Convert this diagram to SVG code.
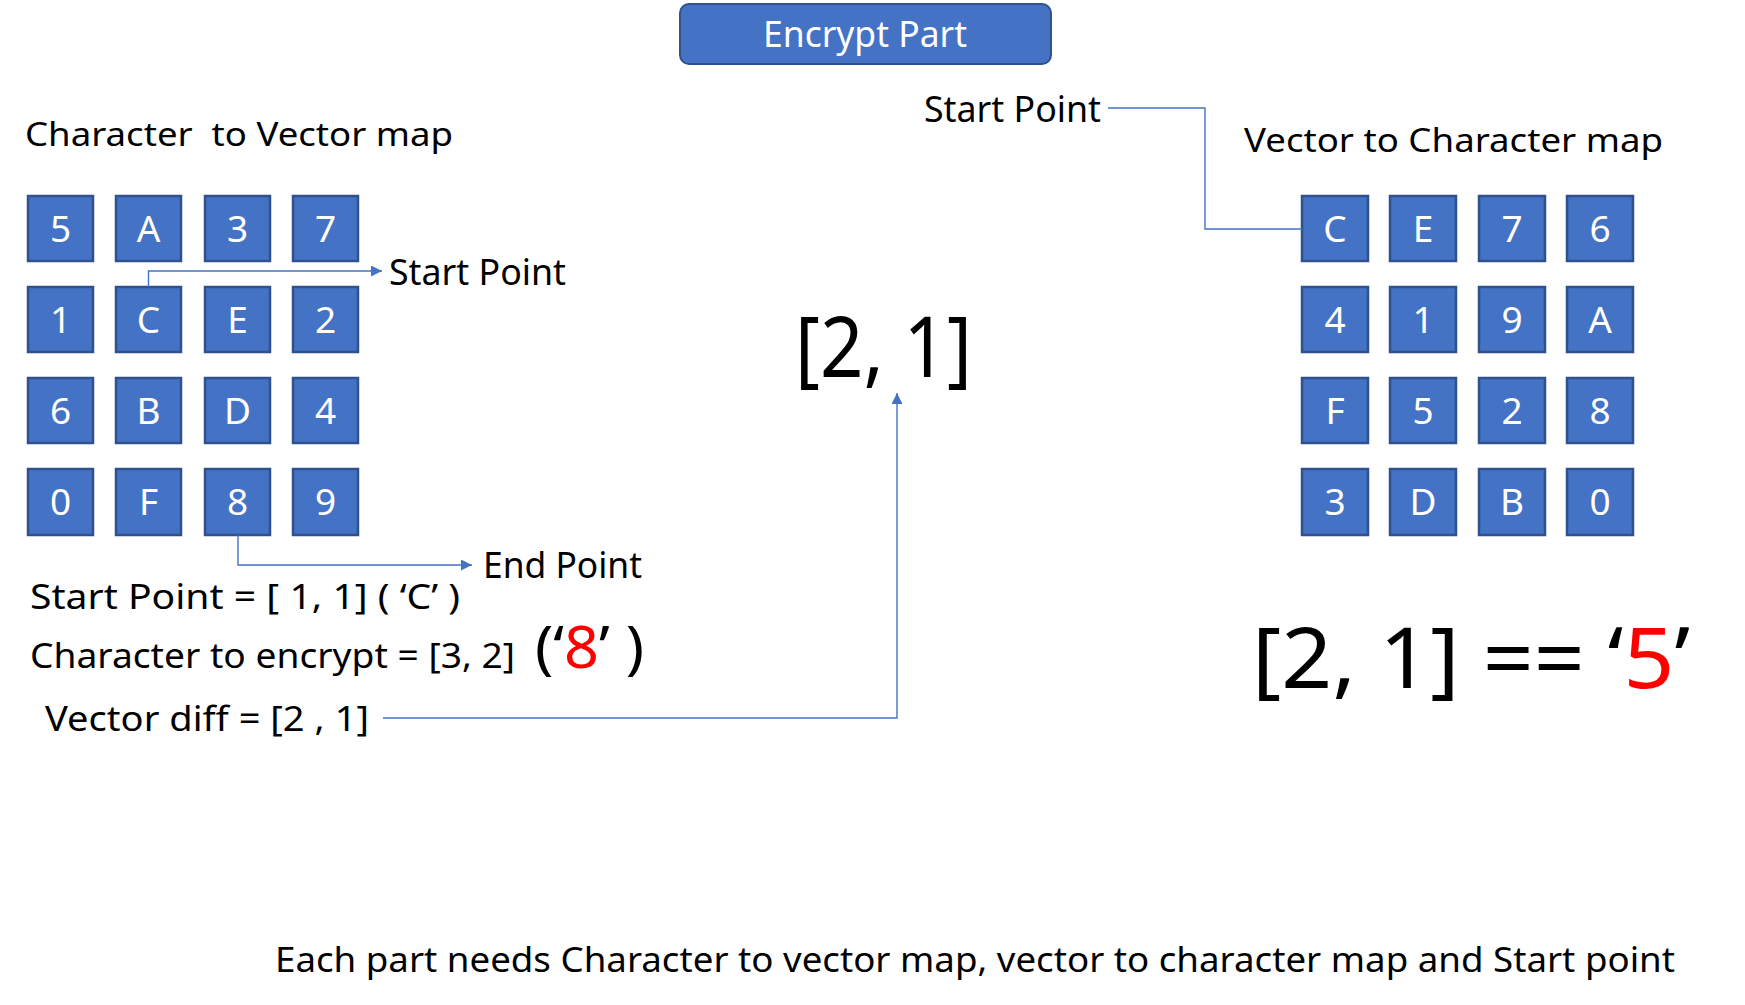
<svg xmlns="http://www.w3.org/2000/svg" width="1745" height="1005" viewBox="0 0 1745 1005">
<defs>
<marker id="arr" markerUnits="userSpaceOnUse" markerWidth="11" markerHeight="11" refX="11" refY="5.5" orient="auto">
<path d="M0,0 L11,5.5 L0,11 z" fill="#4472C4"/>
</marker>
</defs>
<style>
text{font-family:"Noto Sans","Open Sans","Liberation Sans",sans-serif;}
.box rect{fill:#4472C4;stroke:#2F528F;stroke-width:2.5;}
.box text{fill:#ffffff;font-size:37px;text-anchor:middle;}
.lbl{fill:#000;}
.red{fill:#FF0000;}
.conn{fill:none;stroke:#4472C4;stroke-width:1.4;}
</style>
<rect width="1745" height="1005" fill="#ffffff"/>

<g id="title">
<rect x="680" y="4" width="371" height="60" rx="9" fill="#4472C4" stroke="#2F528F" stroke-width="2"/>
<text x="865" y="47" fill="#ffffff" font-size="37" text-anchor="middle" textLength="204" lengthAdjust="spacingAndGlyphs">Encrypt Part</text>
</g>

<g id="labels">
<text class="lbl" x="25" y="146" font-size="33" xml:space="preserve" textLength="428" lengthAdjust="spacingAndGlyphs">Character  to Vector map</text>
<text class="lbl" x="1244" y="152" font-size="33" textLength="419" lengthAdjust="spacingAndGlyphs">Vector to Character map</text>
<text class="lbl" x="389" y="285" font-size="37" textLength="177" lengthAdjust="spacingAndGlyphs">Start Point</text>
<text class="lbl" x="924" y="122" font-size="37" textLength="177" lengthAdjust="spacingAndGlyphs">Start Point</text>
<text class="lbl" x="483" y="578" font-size="37" textLength="159" lengthAdjust="spacingAndGlyphs">End Point</text>
<text class="lbl" x="30" y="609" font-size="34" textLength="430" lengthAdjust="spacingAndGlyphs">Start Point = [ 1, 1] ( ‘C’ )</text>
<text class="lbl" x="30" y="668" font-size="34" textLength="485" lengthAdjust="spacingAndGlyphs">Character to encrypt = [3, 2]</text>
<text class="lbl" x="535" y="668" font-size="58" xml:space="preserve" textLength="109" lengthAdjust="spacingAndGlyphs">(‘<tspan class="red">8</tspan>’ )</text>
<text class="lbl" x="45" y="731" font-size="34" textLength="324" lengthAdjust="spacingAndGlyphs">Vector diff = [2 , 1]</text>
<text class="lbl" x="795" y="377" font-size="84" textLength="177" lengthAdjust="spacingAndGlyphs">[2, 1]</text>
<text class="lbl" x="1252" y="688" font-size="84" xml:space="preserve" textLength="438" lengthAdjust="spacingAndGlyphs">[2, 1] == ‘<tspan class="red">5</tspan>’</text>
<text class="lbl" x="275" y="972" font-size="35" textLength="1400" lengthAdjust="spacingAndGlyphs">Each part needs Character to vector map, vector to character map and Start point</text>
</g>

<g id="left-map">
<g id="L-5" class="box"><rect x="28" y="196" width="65" height="65"/><text x="60.5" y="242">5</text></g>
<g id="L-A" class="box"><rect x="116" y="196" width="65" height="65"/><text x="148.5" y="242">A</text></g>
<g id="L-3" class="box"><rect x="205" y="196" width="65" height="65"/><text x="237.5" y="242">3</text></g>
<g id="L-7" class="box"><rect x="293" y="196" width="65" height="65"/><text x="325.5" y="242">7</text></g>
<g id="L-1" class="box"><rect x="28" y="287" width="65" height="65"/><text x="60.5" y="333">1</text></g>
<g id="L-C" class="box"><rect x="116" y="287" width="65" height="65"/><text x="148.5" y="333">C</text></g>
<g id="L-E" class="box"><rect x="205" y="287" width="65" height="65"/><text x="237.5" y="333">E</text></g>
<g id="L-2" class="box"><rect x="293" y="287" width="65" height="65"/><text x="325.5" y="333">2</text></g>
<g id="L-6" class="box"><rect x="28" y="378" width="65" height="65"/><text x="60.5" y="424">6</text></g>
<g id="L-B" class="box"><rect x="116" y="378" width="65" height="65"/><text x="148.5" y="424">B</text></g>
<g id="L-D" class="box"><rect x="205" y="378" width="65" height="65"/><text x="237.5" y="424">D</text></g>
<g id="L-4" class="box"><rect x="293" y="378" width="65" height="65"/><text x="325.5" y="424">4</text></g>
<g id="L-0" class="box"><rect x="28" y="469" width="65" height="66"/><text x="60.5" y="515">0</text></g>
<g id="L-F" class="box"><rect x="116" y="469" width="65" height="66"/><text x="148.5" y="515">F</text></g>
<g id="L-8" class="box"><rect x="205" y="469" width="65" height="66"/><text x="237.5" y="515">8</text></g>
<g id="L-9" class="box"><rect x="293" y="469" width="65" height="66"/><text x="325.5" y="515">9</text></g>
</g>

<g id="right-map">
<g id="R-C" class="box"><rect x="1302" y="196" width="66" height="65"/><text x="1335" y="242">C</text></g>
<g id="R-E" class="box"><rect x="1390" y="196" width="66" height="65"/><text x="1423" y="242">E</text></g>
<g id="R-7" class="box"><rect x="1479" y="196" width="66" height="65"/><text x="1512" y="242">7</text></g>
<g id="R-6" class="box"><rect x="1567" y="196" width="66" height="65"/><text x="1600" y="242">6</text></g>
<g id="R-4" class="box"><rect x="1302" y="287" width="66" height="65"/><text x="1335" y="333">4</text></g>
<g id="R-1" class="box"><rect x="1390" y="287" width="66" height="65"/><text x="1423" y="333">1</text></g>
<g id="R-9" class="box"><rect x="1479" y="287" width="66" height="65"/><text x="1512" y="333">9</text></g>
<g id="R-A" class="box"><rect x="1567" y="287" width="66" height="65"/><text x="1600" y="333">A</text></g>
<g id="R-F" class="box"><rect x="1302" y="378" width="66" height="65"/><text x="1335" y="424">F</text></g>
<g id="R-5" class="box"><rect x="1390" y="378" width="66" height="65"/><text x="1423" y="424">5</text></g>
<g id="R-2" class="box"><rect x="1479" y="378" width="66" height="65"/><text x="1512" y="424">2</text></g>
<g id="R-8" class="box"><rect x="1567" y="378" width="66" height="65"/><text x="1600" y="424">8</text></g>
<g id="R-3" class="box"><rect x="1302" y="469" width="66" height="66"/><text x="1335" y="515">3</text></g>
<g id="R-D" class="box"><rect x="1390" y="469" width="66" height="66"/><text x="1423" y="515">D</text></g>
<g id="R-B" class="box"><rect x="1479" y="469" width="66" height="66"/><text x="1512" y="515">B</text></g>
<g id="R-0" class="box"><rect x="1567" y="469" width="66" height="66"/><text x="1600" y="515">0</text></g>
</g>

<g id="connectors">
<path class="conn" d="M148.5 287 V271 H382" marker-end="url(#arr)"/>
<path class="conn" d="M238 535 V565 H472" marker-end="url(#arr)"/>
<path class="conn" d="M383 718 H897 V393" marker-end="url(#arr)"/>
<path class="conn" d="M1108 108 H1205 V229 H1302"/>
</g>
</svg>
